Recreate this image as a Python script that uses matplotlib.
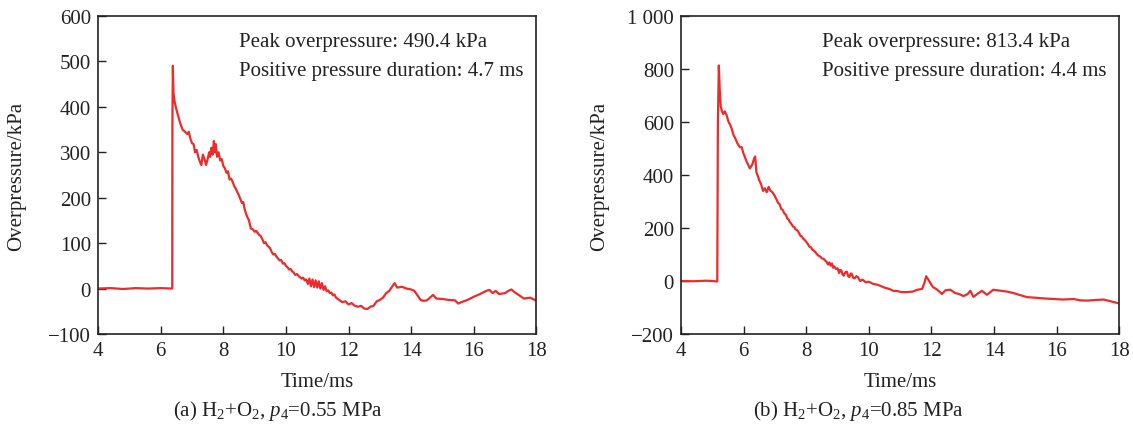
import matplotlib
matplotlib.use("Agg")
import matplotlib.pyplot as plt
from matplotlib.ticker import FixedLocator, FixedFormatter

plt.rcParams['font.family'] = ['Liberation Serif', 'DejaVu Serif']
plt.rcParams['mathtext.fontset'] = 'custom'
plt.rcParams['mathtext.rm'] = 'Liberation Serif'
plt.rcParams['mathtext.it'] = 'Liberation Serif:italic'
plt.rcParams['font.size'] = 15

# (a) H2+O2, p4 = 0.55 MPa
t_a = [4.0, 4.4, 4.8, 5.2, 5.6, 6.0, 6.3, 6.37, 6.375, 6.39, 6.41, 6.45, 6.5, 6.56, 6.62,
       6.7, 6.78, 6.85, 6.9, 6.95, 7.0, 7.05, 7.1, 7.15, 7.2, 7.25, 7.3, 7.35, 7.4, 7.45,
       7.5, 7.55, 7.58, 7.62, 7.66, 7.7, 7.73, 7.76, 7.8, 7.85, 7.9, 7.95, 8.0, 8.05, 8.1,
       8.15, 8.2, 8.25, 8.3, 8.35, 8.4, 8.45, 8.5, 8.55, 8.6, 8.64, 8.68, 8.75, 8.82, 8.88,
       8.95, 9.0, 9.05, 9.1, 9.15, 9.2, 9.25, 9.3, 9.35, 9.4, 9.45, 9.5, 9.55, 9.6, 9.65,
       9.7, 9.75, 9.8, 9.85, 9.9, 9.95, 10.0, 10.05, 10.1, 10.15, 10.2, 10.25, 10.3, 10.35,
       10.4, 10.45, 10.5, 10.55, 10.6, 10.65, 10.7, 10.75, 10.8, 10.85, 10.9, 10.95, 11.0,
       11.05, 11.1, 11.15, 11.2, 11.25, 11.3, 11.35, 11.4, 11.45, 11.5, 11.55, 11.6, 11.7,
       11.8, 11.9, 12.0, 12.1, 12.2, 12.3, 12.4, 12.5, 12.6, 12.7, 12.8, 12.9, 13.0, 13.1,
       13.2, 13.3, 13.4, 13.47, 13.55, 13.7, 13.85, 14.0, 14.1, 14.2, 14.3, 14.4, 14.5,
       14.6, 14.7, 14.8, 15.0, 15.2, 15.4, 15.5, 15.6, 15.8, 16.0, 16.2, 16.4, 16.5, 16.6,
       16.7, 16.8, 17.0, 17.1, 17.2, 17.3, 17.45, 17.6, 17.8, 18.0]
p_a = [0, 1, -1, 1, 0, 1, 0, 0, 360, 490.4, 430, 410, 395, 380, 365,
       350, 345, 340, 345, 330, 320, 318, 300, 305, 290, 280, 272, 295, 285, 272,
       285, 300, 290, 310, 295, 325, 300, 318, 290, 300, 282, 285, 270, 265, 255,
       258, 240, 242, 235, 225, 220, 212, 205, 196, 188, 190, 175, 160, 150, 132,
       130, 125, 127, 122, 118, 115, 108, 100, 102, 95, 92, 88, 80, 75, 76,
       70, 66, 62, 63, 55, 56, 50, 47, 42, 43, 38, 35, 30, 32,
       28, 25, 22, 24, 18, 20, 10, 22, 5, 20, 3, 18, 2,
       16, 0, 12, -3, 5, -6, -4, -10, -9, -15, -13, -20, -25,
       -30, -28, -35, -32, -38, -40, -38, -44, -45, -40, -38, -28, -25, -20,
       -10, -5, 5, 12, 2, 4, 0, -2, -5, -15, -25, -27, -26,
       -20, -14, -22, -23, -25, -26, -33, -30, -25, -18, -12, -5, -3, -10,
       -5, -12, -10, -5, -2, -8, -15, -22, -20, -27]

# (b) H2+O2, p4 = 0.85 MPa
t_b = [4.0, 4.4, 4.8, 5.0, 5.15, 5.16, 5.18, 5.21, 5.24, 5.27, 5.31, 5.35, 5.4, 5.46, 5.52,
       5.57, 5.62, 5.68, 5.73, 5.8, 5.88, 5.94, 6.0, 6.1, 6.2, 6.28, 6.33, 6.37, 6.41, 6.46,
       6.5, 6.56, 6.62, 6.68, 6.74, 6.8, 6.86, 6.92, 7.0, 7.05, 7.1, 7.15, 7.2, 7.25, 7.3,
       7.35, 7.4, 7.44, 7.48, 7.53, 7.58, 7.62, 7.66, 7.7, 7.74, 7.78, 7.82, 7.86, 7.9,
       7.95, 8.0, 8.05, 8.1, 8.15, 8.2, 8.25, 8.3, 8.35, 8.4, 8.45, 8.5, 8.55, 8.6, 8.65,
       8.7, 8.74, 8.78, 8.82, 8.86, 8.9, 8.95, 9.0, 9.05, 9.08, 9.12, 9.16, 9.2, 9.25, 9.3,
       9.34, 9.38, 9.42, 9.45, 9.5, 9.55, 9.6, 9.65, 9.72, 9.8, 9.9, 10.0, 10.14, 10.3, 10.5,
       10.65, 10.78, 10.9, 11.05, 11.21, 11.4, 11.55, 11.7, 11.78, 11.83, 11.9, 12.0, 12.05,
       12.15, 12.25, 12.33, 12.45, 12.6, 12.75, 12.9, 13.02, 13.15, 13.24, 13.34, 13.45,
       13.61, 13.77, 13.9, 13.97, 14.1, 14.25, 14.41, 14.6, 14.8, 15.05, 15.3, 15.6, 15.9,
       16.2, 16.54, 16.75, 16.96, 17.2, 17.5, 17.7, 17.93, 18.0]
p_b = [0, -1, 1, 0, -2, 0, 600, 813.4, 720, 660, 640, 630, 640, 625, 600,
       590, 575, 550, 540, 520, 505, 505, 480, 450, 425, 440, 460, 470, 410, 395,
       380, 365, 340, 350, 335, 355, 340, 335, 320, 308, 295, 290, 272, 268, 255,
       250, 235, 232, 222, 215, 205, 203, 195, 192, 188, 178, 170, 168, 160,
       155, 148, 140, 130, 127, 118, 114, 108, 100, 95, 92, 85, 84, 78, 72,
       62, 70, 58, 66, 50, 55, 45, 48, 30, 42, 40, 25, 20, 33, 35,
       18, 15, 28, 28, 12, 10, 18, 15, 0, 5, -5, -3, -11, -15, -25,
       -30, -37, -38, -42, -42, -40, -33, -30, -5, 18, 5, -15, -23,
       -30, -40, -49, -35, -33, -45, -50, -57, -50, -37, -60, -50,
       -37, -52, -40, -33, -35, -37, -40, -45, -52, -61, -63, -66, -68,
       -70, -68, -73, -74, -72, -70, -76, -83, -85]

x_ticks = [4, 6, 8, 10, 12, 14, 16, 18]
y_ticks_a = [-100, 0, 100, 200, 300, 400, 500, 600]
y_ticks_b = [-200, 0, 200, 400, 600, 800, 1000]
y_labels_b = ['\u2212200', '0', '200', '400', '600', '800', '1 000']
y_labels_a = ['\u2212100', '0', '100', '200', '300', '400', '500', '600']

panels = [
    (t_a, p_a, y_ticks_a, y_labels_a, 'Peak overpressure: 490.4 kPa',
     'Positive pressure duration: 4.7 ms', r'(a) H$_2$+O$_2$, $p_4$=0.55 MPa', 0.0865, 278),
    (t_b, p_b, y_ticks_b, y_labels_b, 'Peak overpressure: 813.4 kPa',
     'Positive pressure duration: 4.4 ms', r'(b) H$_2$+O$_2$, $p_4$=0.85 MPa', 0.601, 858),
]

fig = plt.figure(figsize=(11.33, 4.27), dpi=100)
for t, p, yt, yl, line1, line2, caption, left, cap_x in panels:
    ax = fig.add_axes([left, 0.2155, 0.3870, 0.7447])
    ax.plot(t, p, color='#ee2b2b', lw=1.6)
    ax.set_xlim(4, 18)
    ax.set_ylim(yt[0], yt[-1])
    ax.xaxis.set_major_locator(FixedLocator(x_ticks))
    ax.yaxis.set_major_locator(FixedLocator(yt))
    ax.yaxis.set_major_formatter(FixedFormatter(yl))
    ax.tick_params(direction='in', length=6, width=1, labelsize=15, pad=5,
                   top=False, right=False, colors='#222222')
    for s in ax.spines.values():
        s.set_linewidth(1.2)
        s.set_color('#222222')
    ax.set_xlabel('Time/ms', fontsize=15, color='#222222')
    ax.set_ylabel('Overpressure/kPa', fontsize=15, color='#222222')
    ax.xaxis.set_label_coords(0.5, -0.12)
    ax.yaxis.set_label_coords(-0.164, 0.5)
    ax.text(0.322, 0.921, line1, transform=ax.transAxes, fontsize=15,
            va='center', ha='left', color='#222222')
    ax.text(0.322, 0.830, line2, transform=ax.transAxes, fontsize=15,
            va='center', ha='left', color='#222222')
    fig.text(cap_x / 1133, 1 - 411 / 427, caption, fontsize=15, ha='center',
             va='center', color='#222222')

fig.savefig('out.png', dpi=100)
